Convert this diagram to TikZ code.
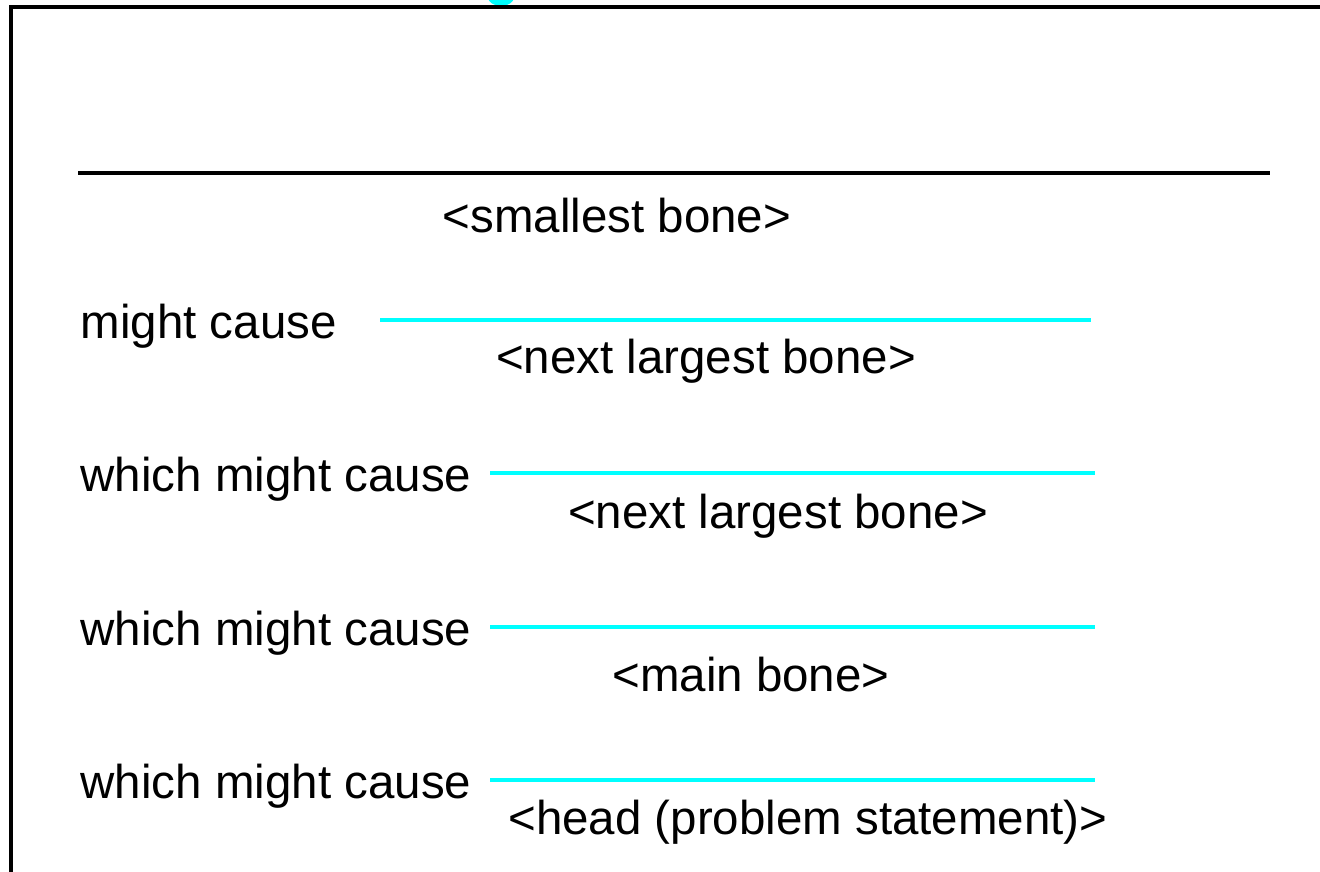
\documentclass[tikz,border=0pt]{standalone}
\usepackage{fontspec}
\setmainfont{Liberation Sans}
\definecolor{ciano}{RGB}{0,255,255}

\begin{document}
\begin{tikzpicture}[x=0.01cm, y=-0.01cm,
    every node/.style={inner sep=0pt, font=\fontsize{13.5}{16}\selectfont}]

  \useasboundingbox (0,0) rectangle (1320,872);

  % 1. Resto do título (cortado pela margem) e moldura
  \begin{scope}
    \clip (0,0) rectangle (1320,7);
    \fill[ciano] (501,-3) ellipse (0.13cm and 0.09cm);
  \end{scope}
  \draw[line width=1pt] (11,872) -- (11,7) -- (1320,7);

  % 2. Osso mais pequeno: traço preto no topo
  \coordinate (topoA) at (78,173);
  \coordinate (topoB) at (1270,173);
  \draw[line width=1pt] (topoA) -- (topoB);
  \node[anchor=base] (osso0) at (617,232) {<smallest bone>};

  % 3. Restantes ossos: texto à esquerda, traço ciano e rótulo por baixo
  \foreach \i/\y/\xa/\xb/\xl/\dy/\causa/\osso in {
      1/320/380/1091/706/53/{might cause}/{<next largest bone>},
      2/473/490/1095/778/55/{which might cause}/{<next largest bone>},
      3/627/490/1095/751/64/{which might cause}/{<main bone>},
      4/780/490/1095/808/54/{which might cause}/{<head (problem statement)>}} {
    \node[anchor=base west] (causa\i) at (80,\y+18) {\causa};  % frase à esquerda
    \coordinate (ini\i) at (\xa,\y);
    \coordinate (fim\i) at (\xb,\y);
    \draw[ciano, line width=0.9pt] (ini\i) -- (fim\i);
    \node[anchor=base] (osso\i) at (\xl,\y+\dy) {\osso};         % nome do osso
  }

\end{tikzpicture}
\end{document}
